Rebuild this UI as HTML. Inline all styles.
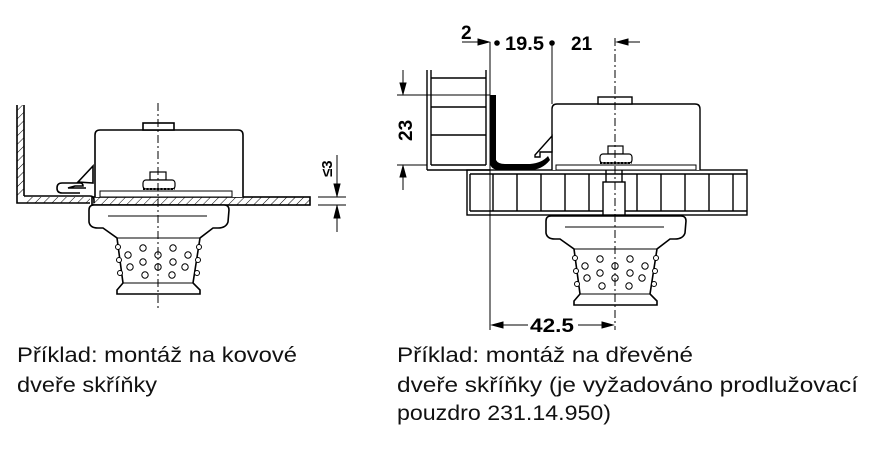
<!DOCTYPE html>
<html><head><meta charset="utf-8"><style>
html,body{margin:0;padding:0;background:#fff;width:884px;height:466px;overflow:hidden}
svg{display:block}
text{font-family:"Liberation Sans",sans-serif}
</style></head><body>
<svg width="884" height="466" viewBox="0 0 884 466" xmlns="http://www.w3.org/2000/svg">
<defs>
<pattern id="h" width="6" height="6" patternUnits="userSpaceOnUse" patternTransform="rotate(45)">
<line x1="0" y1="0" x2="0" y2="6" stroke="#000" stroke-width="1"/></pattern>
<g id="foot" fill="#fff" stroke="#000" stroke-width="1.6">
<path d="M89,210 Q89,205 94,205 L224,205 Q229,205 229,210 L228,222 Q226,228 218,228 L213,228 L200,238 L193,283 L200,290 L200,294 L117,294 L117,290 L123,283 L117,238 L103,228 L98,228 Q90,228 89,222 Z"/>
<line x1="108" y1="216" x2="207" y2="216" stroke-width="1"/>
<line x1="123" y1="283" x2="193" y2="283" stroke-width="1"/>
<line x1="117" y1="238" x2="200" y2="238" stroke-width="1"/>
<g stroke-width="1" fill="#fff">
<circle cx="143" cy="248" r="3.2"/><circle cx="173" cy="248" r="3.2"/>
<circle cx="128" cy="255" r="3.2"/><circle cx="158" cy="255" r="3.2"/><circle cx="188" cy="255" r="3.2"/>
<circle cx="143" cy="262" r="3.2"/><circle cx="173" cy="262" r="3.2"/>
<circle cx="130" cy="267" r="3.2"/><circle cx="158" cy="267" r="3.2"/><circle cx="185" cy="267" r="3.2"/>
<circle cx="145" cy="275" r="3.2"/><circle cx="172" cy="275" r="3.2"/>
<circle cx="118" cy="247" r="2.5"/><circle cx="119" cy="260" r="2.5"/><circle cx="120" cy="273" r="2.5"/>
<circle cx="199" cy="247" r="2.5"/><circle cx="198" cy="260" r="2.5"/><circle cx="197" cy="273" r="2.5"/>
</g>
</g>
</defs>

<!-- LEFT DRAWING -->
<g stroke="#000" fill="none" stroke-width="1.6">
<path d="M17,105 L17,203 L90,203" />
<rect x="17" y="105" width="7" height="91" fill="url(#h)" stroke="none"/>
<line x1="24" y1="105" x2="24" y2="196"/>
<path d="M24,196 L90,196 Q94,196 94,200 L94,203" />
<rect x="24" y="197" width="66" height="6" fill="url(#h)" stroke="none"/>
<rect x="92" y="197" width="218" height="8" fill="url(#h)"/>
<!-- hook -->
<path d="M80,193 L62,193 Q57,193 57,188 Q57,183 62,183 L80,183 Q83,183 83,186 L75,186 L68,188 L86,188"/>
<path d="M78,182 L93,166 L93,183 Z" fill="#fff"/>
<!-- box -->
<path d="M95,197 L95,135 Q95,130 100,130 L238,130 Q243,130 243,135 L243,197" fill="#fff"/>
<rect x="143" y="123" width="31" height="7" fill="#fff"/>
<rect x="100" y="191" width="132" height="6" fill="#fff" stroke-width="1"/>
<rect x="150" y="172" width="16" height="8" fill="#fff" stroke-width="1.2"/>
<rect x="143" y="180" width="32" height="9" rx="3" fill="#fff" stroke-width="1.2"/>
<line x1="143" y1="189" x2="175" y2="189" stroke-dasharray="2,1.5" stroke-width="2"/>
</g>
<use href="#foot"/>
<line x1="158" y1="103" x2="158" y2="308" stroke="#000" stroke-width="1" stroke-dasharray="8,3,2,3"/>
<!-- ≤3 dim -->
<g stroke="#000" stroke-width="1" fill="#000">
<line x1="318" y1="197" x2="346" y2="197"/><line x1="318" y1="205" x2="346" y2="205"/>
<line x1="337" y1="155" x2="337" y2="197"/><path d="M334,184 L337,196 L340,184 Z"/>
<line x1="337" y1="205" x2="337" y2="232"/><path d="M334,218 L337,206 L340,218 Z"/>
</g>
<text transform="translate(332,177) rotate(-90)" font-size="15" font-weight="bold">≤3</text>

<!-- RIGHT DRAWING -->
<g stroke="#000" fill="none" stroke-width="1.4">
<line x1="427" y1="70" x2="427" y2="170"/><line x1="431" y1="70" x2="431" y2="165"/>
<line x1="486" y1="70" x2="486" y2="165"/>
<line x1="431" y1="78" x2="486" y2="78"/><line x1="431" y1="107" x2="486" y2="107"/><line x1="431" y1="135" x2="486" y2="135"/>
<line x1="427" y1="170" x2="490" y2="170"/>
<line x1="431" y1="165" x2="486" y2="165"/>
<rect x="467" y="170" width="280" height="45"/>
<line x1="470" y1="174" x2="747" y2="174"/><line x1="470" y1="211" x2="747" y2="211"/>
<line x1="470" y1="174" x2="470" y2="211"/>
<line x1="493" y1="174" x2="493" y2="211"/><line x1="517" y1="174" x2="517" y2="211"/>
<line x1="541" y1="174" x2="541" y2="211"/><line x1="565" y1="174" x2="565" y2="211"/>
<line x1="589" y1="174" x2="589" y2="211"/><line x1="637" y1="174" x2="637" y2="211"/>
<line x1="661" y1="174" x2="661" y2="211"/><line x1="685" y1="174" x2="685" y2="211"/>
<line x1="709" y1="174" x2="709" y2="211"/><line x1="733" y1="174" x2="733" y2="211"/>
<rect x="603" y="182" width="22" height="33" fill="#fff"/>
<line x1="606" y1="170" x2="606" y2="182"/><line x1="622" y1="170" x2="622" y2="182"/>
<path d="M552,170 L552,109 Q552,104 557,104 L695,104 Q700,104 700,109 L700,170" fill="#fff"/>
<rect x="598" y="97" width="34" height="7" fill="#fff"/>
<rect x="556" y="165" width="140" height="5" fill="#fff" stroke-width="1"/>
<rect x="608" y="146" width="15" height="8" fill="#fff" stroke-width="1.2"/>
<rect x="600" y="154" width="32" height="9" rx="3" fill="#fff" stroke-width="1.2"/>
<line x1="600" y1="163" x2="632" y2="163" stroke-dasharray="2,1.5" stroke-width="2"/>
<path d="M535,155 L552,136 L552,152 L540,152 L540,157 L535,157 Z" fill="#fff"/>
</g>
<path d="M490,95 L496,95 L496,160 Q498,164 505,164 L530,164 Q542,163 548,156 L550,160 Q542,170 530,170 L500,170 Q490,170 490,162 Z" fill="#000"/>
<use href="#foot" transform="translate(457,11)"/>
<line x1="615" y1="38" x2="615" y2="330" stroke="#000" stroke-width="1" stroke-dasharray="8,3,2,3"/>
<g stroke="#000" stroke-width="1" fill="#000">
<line x1="490" y1="42" x2="490" y2="330"/>
<line x1="552" y1="42" x2="552" y2="104"/>
<circle cx="497" cy="43" r="2.3"/><circle cx="552" cy="43" r="2.3"/>
<line x1="462" y1="42" x2="489" y2="42"/><path d="M478,39 L489,42 L478,45 Z"/>
<line x1="640" y1="42" x2="617" y2="42"/><path d="M628,39 L617,42 L628,45 Z"/>
<line x1="397" y1="95" x2="490" y2="95"/><line x1="397" y1="165" x2="427" y2="165"/>
<line x1="403" y1="70" x2="403" y2="94"/><path d="M400,83 L403,94 L406,83 Z"/>
<line x1="403" y1="166" x2="403" y2="190"/><path d="M400,177 L403,166 L406,177 Z"/>
<line x1="492" y1="325" x2="528" y2="325"/><path d="M503,322 L492,325 L503,328 Z"/>
<line x1="578" y1="325" x2="613" y2="325"/><path d="M602,322 L613,325 L602,328 Z"/>
</g>
<g font-weight="bold" font-size="19">
<text x="461" y="39">2</text>
<text x="505" y="50" textLength="39" lengthAdjust="spacingAndGlyphs">19.5</text>
<text x="571" y="50">21</text>
<text x="530" y="332" textLength="44" lengthAdjust="spacingAndGlyphs">42.5</text>
<text transform="translate(412,141) rotate(-90)">23</text>
</g>

<g font-size="21" fill="#111">
<text x="17" y="362" textLength="280" lengthAdjust="spacingAndGlyphs">Příklad: montáž na kovové</text>
<text x="17" y="392" textLength="140" lengthAdjust="spacingAndGlyphs">dveře skříňky</text>
<text x="397" y="362" textLength="296" lengthAdjust="spacingAndGlyphs">Příklad: montáž na dřevěné</text>
<text x="397" y="392" textLength="461" lengthAdjust="spacingAndGlyphs">dveře skříňky (je vyžadováno prodlužovací</text>
<text x="397" y="420" textLength="214" lengthAdjust="spacingAndGlyphs">pouzdro 231.14.950)</text>
</g>
</svg>
</body></html>
